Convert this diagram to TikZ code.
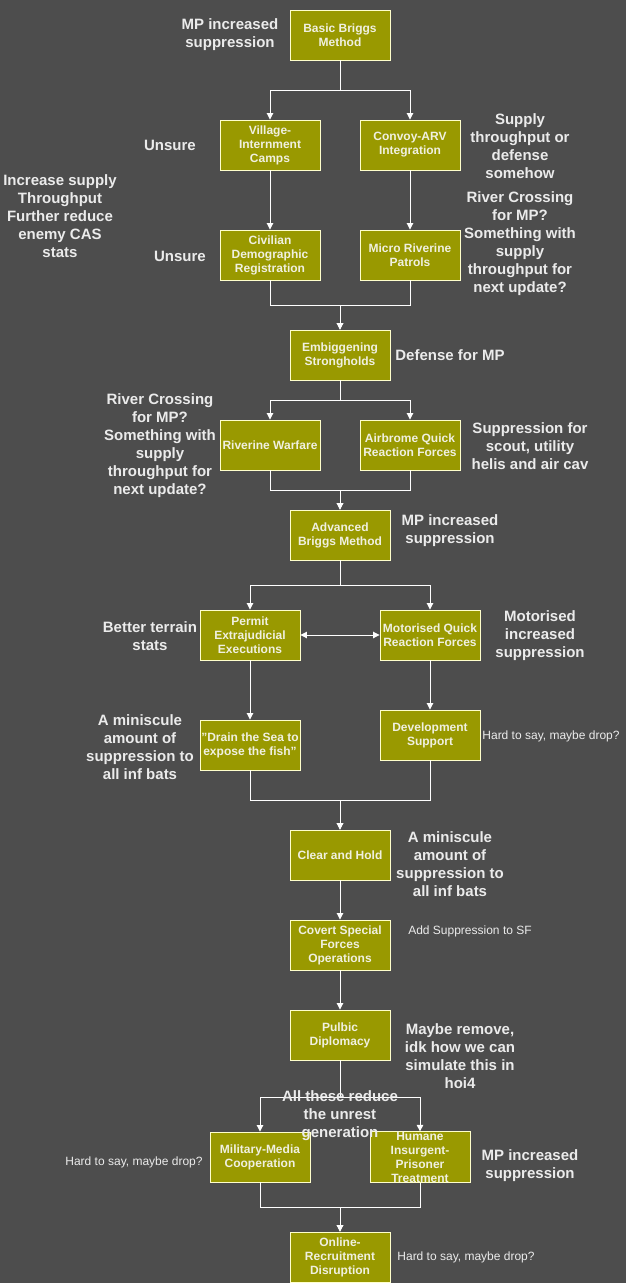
\documentclass[tikz,border=0pt]{standalone}
\usepackage{fontspec}
\setmainfont{Liberation Sans}
\usetikzlibrary{arrows.meta}
\definecolor{bgc}{HTML}{4D4D4D}
\definecolor{boxfill}{HTML}{999900}
\definecolor{boxline}{HTML}{FFFFCC}
\definecolor{txt}{HTML}{F0F0E0}
\definecolor{lbltxt}{HTML}{EBEBEB}
\tikzset{
  stepbox/.style={draw=boxline, fill=boxfill, line width=0.9pt, minimum width=100pt, minimum height=50pt,
    inner sep=0pt, align=center, text=txt, font=\bfseries\fontsize{12}{14}\selectfont},
  lbl/.style={align=center, text=lbltxt, inner sep=0pt, font=\bfseries\fontsize{15}{18}\selectfont},
  note/.style={align=center, text=lbltxt, inner sep=0pt, font=\fontsize{12}{14}\selectfont},
  conn/.style={draw=white, line width=0.9pt, -{Triangle[length=6.5pt,width=6.5pt]}},
  dconn/.style={draw=white, line width=0.9pt, {Triangle[length=6.5pt,width=6.5pt]}-{Triangle[length=6.5pt,width=6.5pt]}}
}
\begin{document}
\begin{tikzpicture}[x=1pt,y=-1pt]
\fill[bgc] (0,0) rectangle (626,1283);
\useasboundingbox (0,0) rectangle (626,1283);

% boxes
\node[stepbox] (basic) at (340,35) {Basic Briggs\\Method};
\node[stepbox] (village) at (270,145) {Village-\\Internment\\Camps};
\node[stepbox] (convoy) at (410,145) {Convoy-ARV\\Integration};
\node[stepbox] (civil) at (270,255) {Civilian\\Demographic\\Registration};
\node[stepbox] (micro) at (410,255) {Micro Riverine\\Patrols};
\node[stepbox] (embig) at (340,355) {Embiggening\\Strongholds};
\node[stepbox] (riverw) at (270,445) {Riverine Warfare};
\node[stepbox] (airqrf) at (410,445) {Airbrome Quick\\Reaction Forces};
\node[stepbox] (adv) at (340,535) {Advanced\\Briggs Method};
\node[stepbox] (permit) at (250,635) {Permit\\Extrajudicial\\Executions};
\node[stepbox] (motqrf) at (430,635) {Motorised Quick\\Reaction Forces};
\node[stepbox] (drain) at (250,745) {"Drain the Sea to\\expose the fish"};
\node[stepbox] (devsup) at (430,735) {Development\\Support};
\node[stepbox] (clear) at (340,855) {Clear and Hold};
\node[stepbox] (covert) at (340,945) {Covert Special\\Forces\\Operations};
\node[stepbox] (pubdip) at (340,1035) {Pulbic\\Diplomacy};
\node[stepbox] (milmed) at (260,1157) {Military-Media\\Cooperation};
\node[stepbox] (humane) at (420,1157) {Humane\\Insurgent-\\Prisoner\\Treatment};
\node[stepbox] (online) at (340,1257) {Online-\\Recruitment\\Disruption};

% connectors
\draw[conn] (basic.south) -- ++(0,30) -| (village.north);
\draw[conn] (basic.south) -- ++(0,30) -| (convoy.north);
\draw[conn] (village) -- (civil);
\draw[conn] (convoy) -- (micro);
\draw[conn] (civil.south) -- ++(0,25) -| (embig.north);
\draw[conn] (micro.south) -- ++(0,25) -| (embig.north);
\draw[conn] (embig.south) -- ++(0,20) -| (riverw.north);
\draw[conn] (embig.south) -- ++(0,20) -| (airqrf.north);
\draw[conn] (riverw.south) -- ++(0,20) -| (adv.north);
\draw[conn] (airqrf.south) -- ++(0,20) -| (adv.north);
\draw[conn] (adv.south) -- ++(0,25) -| (permit.north);
\draw[conn] (adv.south) -- ++(0,25) -| (motqrf.north);
\draw[dconn] (permit.east) -- (motqrf.west);
\draw[conn] (permit) -- (drain);
\draw[conn] (motqrf) -- (devsup);
\draw[conn] (drain.south) -- ++(0,30) -| (clear.north);
\draw[conn] (devsup.south) -- ++(0,40) -| (clear.north);
\draw[conn] (clear) -- (covert);
\draw[conn] (covert) -- (pubdip);
\draw[conn] (pubdip.south) -- ++(0,37) -| (milmed.north);
\draw[conn] (pubdip.south) -- ++(0,37) -| (humane.north);
\draw[conn] (milmed.south) -- ++(0,25) -| (online.north);
\draw[conn] (humane.south) -- ++(0,25) -| (online.north);

% labels
\node[lbl] (l1) at (230,35) {MP increased\\suppression};
\node[lbl] (l2) at (170,145) {Unsure};
\node[lbl] (l3) at (520,146) {Supply\\throughput or\\defense\\somehow};
\node[lbl] (l4) at (60,216) {Increase supply\\Throughput\\Further reduce\\enemy CAS\\stats};
\node[lbl] (l5) at (180,256) {Unsure};
\node[lbl] (l6) at (520,244) {River Crossing\\for MP?\\Something with\\supply\\throughput for\\next update?};
\node[lbl] (l7) at (450,355) {Defense for MP};
\node[lbl] (l8) at (160,446) {River Crossing\\for MP?\\Something with\\supply\\throughput for\\next update?};
\node[lbl] (l9) at (530,446) {Suppression for\\scout, utility\\helis and air cav};
\node[lbl] (l10) at (450,531) {MP increased\\suppression};
\node[lbl] (l11) at (150,636) {Better terrain\\stats};
\node[lbl] (l12) at (540,636) {Motorised\\increased\\suppression};
\node[lbl] (l13) at (140,747) {A miniscule\\amount of\\suppression to\\all inf bats};
\node[note] (n1) at (551,736) {Hard to say, maybe drop?};
\node[lbl] (l14) at (450,864) {A miniscule\\amount of\\suppression to\\all inf bats};
\node[note] (n2) at (470,931) {Add Suppression to SF};
\node[lbl] (l15) at (460,1056) {Maybe remove,\\idk how we can\\simulate this in\\hoi4};
\node[lbl] (l16) at (340,1116) {All these reduce\\the unrest\\generation};
\node[note] (n3) at (134,1162) {Hard to say, maybe drop?};
\node[lbl] (l17) at (530,1166) {MP increased\\suppression};
\node[note] (n4) at (466,1257) {Hard to say, maybe drop?};
\end{tikzpicture}
\end{document}
